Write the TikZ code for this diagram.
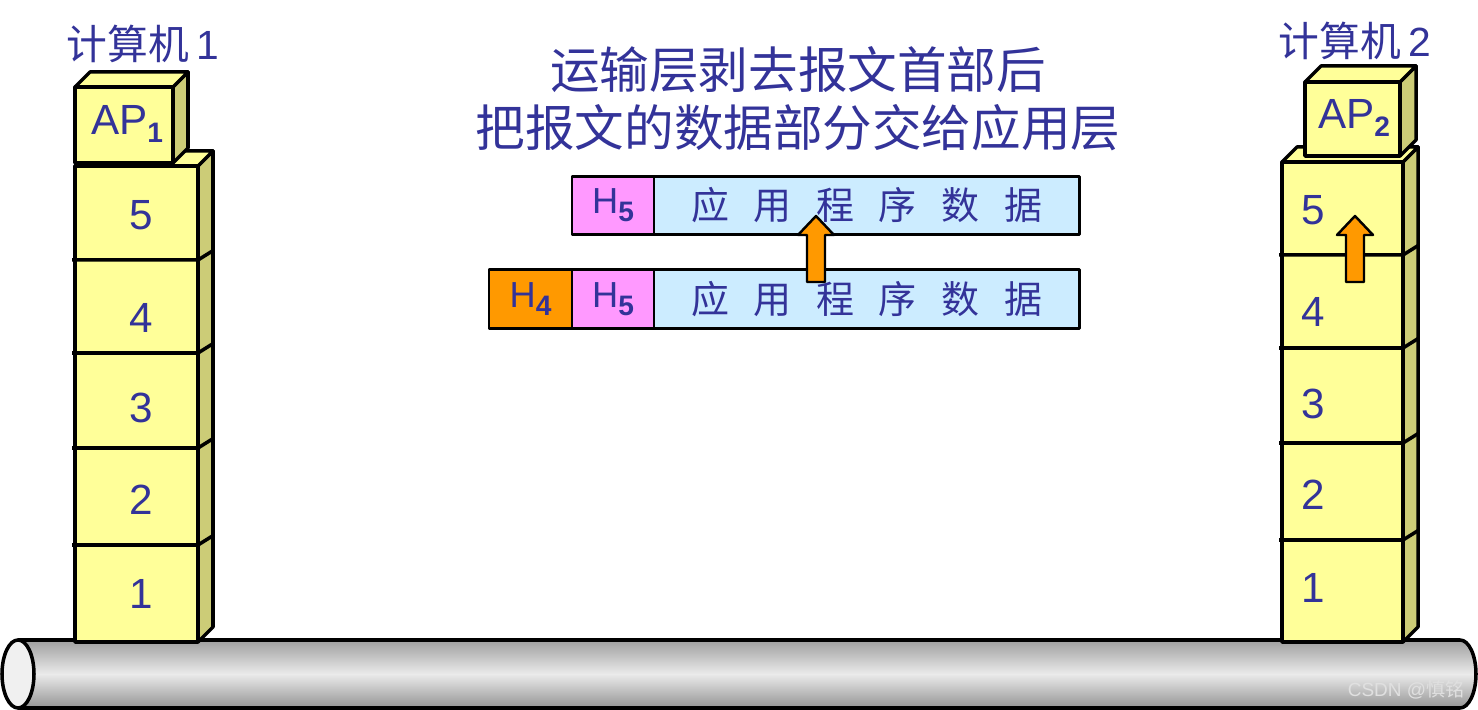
\documentclass[tikz,border=0pt]{standalone}
\usepackage{fontspec}
\setmainfont{Liberation Sans}
\newfontfamily\cjk{Noto Sans CJK SC}
\usetikzlibrary{positioning}
\definecolor{lop}{RGB}{255,255,153}
\definecolor{lopben}{RGB}{204,204,119}
\definecolor{chu}{RGB}{51,51,153}
\definecolor{hong}{RGB}{255,153,255}
\definecolor{xanh}{RGB}{204,236,255}
\definecolor{cam}{RGB}{255,153,0}
\newcommand\duoi[1]{\raisebox{-2.2pt}{\fontsize{8}{9}\selectfont\bfseries #1}}
\newcommand\appdata{应\hspace{7pt}用\hspace{7pt}程\hspace{7pt}序\hspace{7pt}数\hspace{7pt}据}
\tikzset{
	mat/.style={fill=lop,draw=black,line width=1pt},
	ben/.style={fill=lopben,draw=black,line width=1pt},
	so/.style={text=chu,font=\fontsize{12}{14}\selectfont},
	ohop/.style={draw=black,line width=.8pt,minimum height=0.585cm,inner sep=0pt,outer sep=0pt,text=chu,font=\fontsize{10.3}{12}\selectfont},
	muiten/.style={fill=cam,draw=black,line width=.7pt},
}
\begin{document}
\begin{tikzpicture}[x=0.01cm, y=-0.01cm, line join=round]
	\useasboundingbox (0,0) rectangle (1478,710);
	%% duong truyen
	\shade[top color=black!38, bottom color=black!42, middle color=black!8, draw=black, line width=1pt]
	(18,640)--(1460,640) arc[start angle=-90, end angle=90, x radius=16, y radius=34]--(18,708)--cycle;
	\draw[fill=black!6, line width=1pt] (18,674) ellipse[x radius=16, y radius=34];
	\node[text=black!12, font=\fontsize{5.4}{7}\selectfont] (csdn) at (1406,690) {CSDN @{\cjk 慎铭}};
	
	%% may tinh 1
	\fill[lop] (75,166) rectangle (198,642);
	\draw[ben] (198,166)--(213,151)--(213,627)--(198,642)--cycle;
	\draw[mat] (75,166)--(90,151)--(213,151)--(198,166)--cycle;
	\draw[mat] (75,166) rectangle (198,642);
	\foreach \y in {260,353,448,545}
	\draw[line width=1pt] (72,\y)--(198,\y)--(214,\y-10);
	\draw[ben] (173,87)--(188,72)--(188,148)--(173,163)--cycle;
	\draw[mat] (75,87)--(90,72)--(188,72)--(173,87)--cycle;
	\draw[mat] (75,87) rectangle (173,163);
	\node[so] (ap1) at (127,124) {AP\duoi{1}};
	\foreach \n/\y in {5/215,4/318,3/408,2/500,1/594}
	\node[so] (a\n) at (141,\y) {\n};
	\node[text=chu, font=\fontsize{11.6}{13}\selectfont] (pc1) at (143,44) {{\cjk 计算机}\hspace{2pt}1};
	
	%% may tinh 2
	\fill[lop] (1282,162) rectangle (1403,642);
	\draw[ben] (1403,162)--(1418,147)--(1418,627)--(1403,642)--cycle;
	\draw[mat] (1282,162)--(1297,147)--(1418,147)--(1403,162)--cycle;
	\draw[mat] (1282,162) rectangle (1403,642);
	\foreach \y in {255,348,443,540}
	\draw[line width=1pt] (1279,\y)--(1403,\y)--(1419,\y-10);
	\draw[ben] (1400,82)--(1416,66)--(1416,140)--(1400,156)--cycle;
	\draw[mat] (1305,82)--(1321,66)--(1416,66)--(1400,82)--cycle;
	\draw[mat] (1305,82) rectangle (1400,156);
	\node[so] (ap2) at (1354,118) {AP\duoi{2}};
	\foreach \n/\y in {5/210,4/312,3/404,2/495,1/588}
	\node[so] (b\n) at (1313,\y) {\n};
	\node[text=chu, font=\fontsize{11.6}{13}\selectfont] (pc2) at (1355,41) {{\cjk 计算机}\hspace{2pt}2};
	
	%% tieu de
	\node[text=chu, align=center, font=\cjk\fontsize{14.1}{16.4}\selectfont] (title) at (798,99)
	{运输层剥去报文首部后\\把报文的数据部分交给应用层};
	
	%% cac goi tin
	\node[ohop, fill=hong, minimum width=0.82cm] (h5a) at (613,205.5) {H\duoi{5}};
	\node[ohop, fill=xanh, minimum width=4.25cm, right=0pt of h5a, font=\cjk\fontsize{10.8}{12}\selectfont] (dla) {\appdata};
	\node[ohop, fill=cam, minimum width=0.83cm] (h4) at (530.5,299) {H\duoi{4}};
	\node[ohop, fill=hong, minimum width=0.82cm, right=0pt of h4] (h5b) {H\duoi{5}};
	\node[ohop, fill=xanh, minimum width=4.25cm, right=0pt of h5b, font=\cjk\fontsize{10.8}{12}\selectfont] (dlb) {\appdata};
	
	%% mui ten
	\foreach \c in {816,1355}
	\draw[muiten] (\c,216)--(\c+18,235)--(\c+9,235)--(\c+9,282)--(\c-9,282)--(\c-9,235)--(\c-18,235)--cycle;
\end{tikzpicture}
\end{document}
